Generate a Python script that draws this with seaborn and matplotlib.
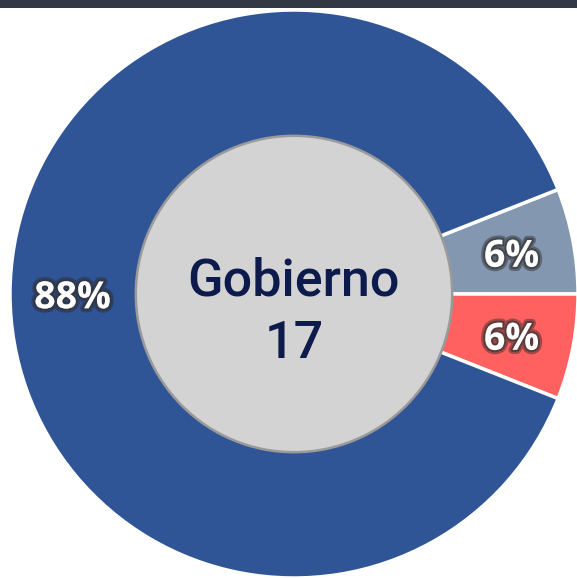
import matplotlib
matplotlib.use("Agg")
import matplotlib.pyplot as plt
import matplotlib.patheffects as pe
import numpy as np
import seaborn as sb

# shares of the three groups (clockwise from the top-right boundary)
labels = ['Otros', 'Oposicion', 'Gobierno']
shares = [6, 6, 88]
colors = ['#8497B0', '#FF6161', '#2F5597']
center_title = 'Gobierno'
center_value = '17'

sb.set_theme(style='white')

fig = plt.figure(figsize=(5.77, 5.78), dpi=100)
ax = fig.add_axes([0, 0, 1, 1])

wedges, texts = ax.pie(shares, colors=colors, startangle=21.6, counterclock=False,
                       radius=1.0,
                       wedgeprops=dict(width=0.6, edgecolor='white', linewidth=2.5))

# percentage labels on the ring
tot = sum(shares)
for w, v in zip(wedges, shares):
    ang = np.deg2rad((w.theta1 + w.theta2) / 2)
    r = 0.78
    ax.text(r * np.cos(ang), r * np.sin(ang) - 0.015, '%d%%' % round(100 * v / tot),
            ha='center', va='center', color='white', fontsize=27,
            fontweight='bold', family='Open Sans',
            path_effects=[pe.withStroke(linewidth=6, foreground='#2a2a2a', alpha=0.45),
                          pe.withStroke(linewidth=3, foreground='#333333', alpha=0.6)])

# grey disc in the middle
disc = plt.Circle((0, 0), 0.557, facecolor='#D3D3D3', edgecolor='#9A9A9A', linewidth=1.8, zorder=3)
ax.add_patch(disc)
ax.text(0, 0.045, center_title, ha='center', va='center', fontsize=37.5,
        color='#0D1B4C', family='Roboto', fontweight='medium', zorder=4)
ax.text(0, -0.175, center_value, ha='center', va='center', fontsize=37.5,
        color='#0D1B4C', family='Roboto', fontweight='medium', zorder=4)

ax.set_xlim(-294 / 284, 283 / 284)
ax.set_ylim(-284 / 284, 294 / 284)
ax.set_aspect('auto')
ax.axis('off')

# dark strip along the top
fig.patches.append(plt.Rectangle((0, 1 - 8 / 578), 1, 8 / 578, transform=fig.transFigure,
                                 facecolor='#323844', edgecolor='none'))

plt.savefig('out.png', dpi=100)
